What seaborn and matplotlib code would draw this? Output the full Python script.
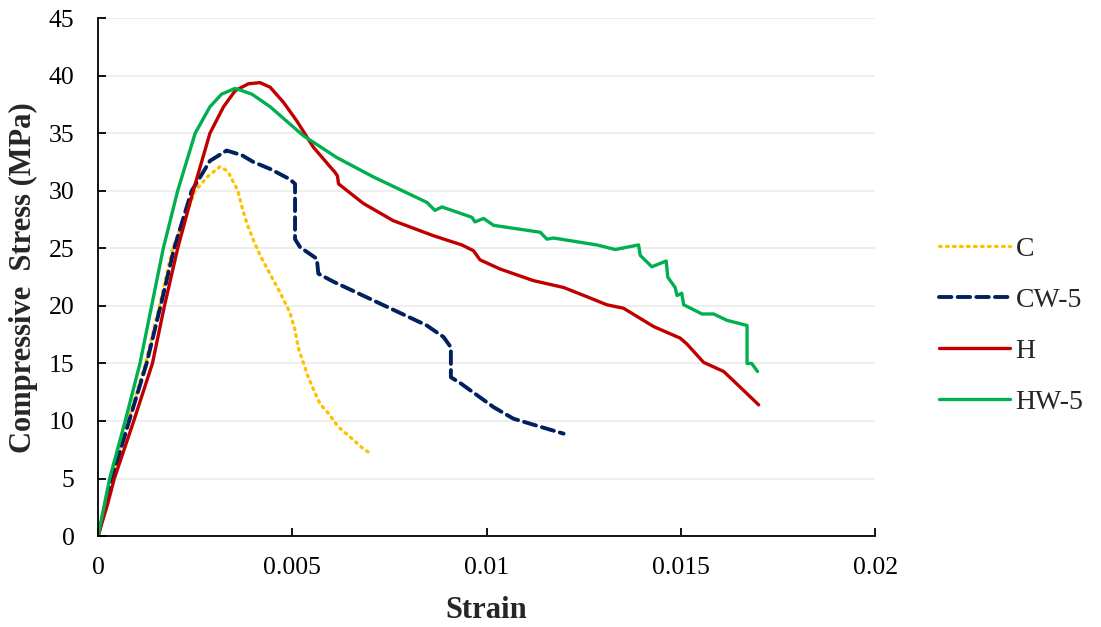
import matplotlib
matplotlib.use("Agg")
import matplotlib.pyplot as plt
import seaborn as sns
import pandas as pd

# ---- data ----
c_strain = [0, 0.00033, 0.00077, 0.00122, 0.00158, 0.00192, 0.0025, 0.00284, 0.00314, 0.00334, 0.0036,
            0.00372, 0.00384, 0.004, 0.00417, 0.00447, 0.00468, 0.00494, 0.00507, 0.00515, 0.00528,
            0.00541, 0.00559, 0.00571, 0.00592, 0.00618, 0.00649, 0.00682, 0.007]
c_stress = [0, 5, 10, 15, 20, 25, 30, 31.3, 32.1, 31.7, 30.0,
            28.4, 27.1, 25.7, 24.4, 22.5, 21.2, 19.4, 17.9, 16.4, 15.1,
            13.8, 12.4, 11.5, 10.7, 9.5, 8.6, 7.6, 7.2]

cw_strain = [0, 0.00036, 0.0008, 0.00125, 0.00161, 0.00196, 0.00241, 0.00263, 0.00288, 0.00331, 0.0037,
             0.004, 0.00443, 0.00494, 0.00507, 0.00507, 0.0052, 0.00563, 0.00567, 0.00606,
             0.00726, 0.00846, 0.00889, 0.00908, 0.00908, 0.00932, 0.01018, 0.01069, 0.01138, 0.01198]
cw_stress = [0, 5, 10, 15, 20, 25, 30, 31.2, 32.6, 33.5, 33.1,
             32.5, 31.9, 31.0, 30.6, 25.8, 25.1, 24.1, 22.8, 22.1,
             20.2, 18.3, 17.3, 16.4, 13.8, 13.3, 11.2, 10.2, 9.5, 8.9]

h_strain = [0, 0.00025, 0.00042, 0.00092, 0.0014, 0.00171, 0.00205, 0.00245, 0.00288, 0.00323, 0.00353,
            0.00387, 0.00417, 0.00443, 0.00477, 0.00511, 0.00554, 0.00597, 0.0061, 0.00616, 0.00619,
            0.00683, 0.0076, 0.00863, 0.00936, 0.00966, 0.00983, 0.01035, 0.0112, 0.01198, 0.01258,
            0.01309, 0.01352, 0.0143, 0.01498, 0.01515, 0.01558, 0.0161, 0.01635, 0.017]
h_stress = [0, 2.8, 5, 10, 15, 20, 25, 30, 35, 37.3, 38.7,
            39.3, 39.4, 39.0, 37.7, 36.1, 33.8, 32.1, 31.6, 31.3, 30.6,
            28.9, 27.4, 26.1, 25.3, 24.8, 24.0, 23.2, 22.2, 21.6, 20.8,
            20.1, 19.8, 18.2, 17.2, 16.7, 15.1, 14.3, 13.5, 11.4]

hw_strain = [0, 0.0003, 0.0007, 0.00108, 0.00138, 0.00168, 0.00205, 0.0025, 0.00288, 0.00318, 0.00353,
             0.00396, 0.00443, 0.00528, 0.00614, 0.00709, 0.00846, 0.00867, 0.00885, 0.00962, 0.0097,
             0.00992, 0.01018, 0.01138, 0.01155, 0.01172, 0.01283, 0.01331, 0.01391, 0.01395, 0.01425,
             0.01462, 0.01466, 0.01485, 0.0149, 0.01502, 0.01507, 0.01554, 0.01584, 0.01618, 0.0167,
             0.0167, 0.01682, 0.01697]
hw_stress = [0, 5, 10, 15, 20, 25, 30, 35, 37.3, 38.4, 38.9,
             38.4, 37.3, 34.8, 32.9, 31.2, 29.0, 28.3, 28.6, 27.7, 27.3,
             27.6, 27.0, 26.4, 25.8, 25.9, 25.3, 24.9, 25.3, 24.4, 23.4,
             23.9, 22.5, 21.6, 20.9, 21.1, 20.1, 19.3, 19.3, 18.75, 18.3,
             15.0, 15.0, 14.3]

labels = ["C", "CW-5", "H", "HW-5"]
colors = ["#FFC000", "#002060", "#C00000", "#00B050"]
x_ticks = [0, 0.005, 0.01, 0.015, 0.02]
x_tick_labels = ["0", "0.005", "0.01", "0.015", "0.02"]
y_ticks = [0, 5, 10, 15, 20, 25, 30, 35, 40, 45]

sns.set_theme(style="white")
plt.rcParams["font.family"] = ["Liberation Serif", "DejaVu Serif"]

fig = plt.figure(figsize=(11.01, 6.27), dpi=100)
ax = fig.add_axes([0.089, 0.145, 0.706, 0.826])

series = [(c_strain, c_stress), (cw_strain, cw_stress), (h_strain, h_stress), (hw_strain, hw_stress)]
styles = [dict(linestyle=(0, (0.5, 1.6)), linewidth=2.4),
          dict(linestyle=(0, (3.2, 1.6)), linewidth=2.8),
          dict(linestyle="-", linewidth=2.4),
          dict(linestyle="-", linewidth=2.4)]

for (xs, ys), lab, col, st in zip(series, labels, colors, styles):
    df = pd.DataFrame({"Strain": xs, "Stress": ys})
    sns.lineplot(data=df, x="Strain", y="Stress", sort=False, estimator=None,
                 color=col, label=lab, ax=ax, **st)
for ln in ax.lines:
    ln.set_dash_capstyle("round")
    ln.set_solid_joinstyle("round")

ax.set_xlim(0, 0.02)
ax.set_ylim(0, 45)
ax.set_xticks(x_ticks)
ax.set_xticklabels(x_tick_labels)
ax.set_yticks(y_ticks)
ax.yaxis.grid(True, color="#EBEBEB", linewidth=1.2)
ax.xaxis.grid(False)
for s in ["top", "right"]:
    ax.spines[s].set_visible(False)
for s in ["left", "bottom"]:
    ax.spines[s].set_color("black")
    ax.spines[s].set_linewidth(1.3)
ax.tick_params(axis="both", which="major", direction="in", length=6, width=1.3,
               color="black", labelsize=18.5, labelcolor="black", bottom=True, left=True)
ax.tick_params(axis="x", pad=15)
ax.tick_params(axis="y", pad=17)

ax.set_xlabel("Strain", fontsize=22, fontweight="bold", labelpad=12)
ax.set_ylabel("Compressive  Stress (MPa)", fontsize=22, fontweight="bold", labelpad=8)

leg = ax.legend(loc="center left", bbox_to_anchor=(1.068, 0.406), frameon=False,
                borderaxespad=0, fontsize=20, handlelength=2.55, handletextpad=0.2,
                labelspacing=0.92)

fig.savefig("out.png", dpi=100)
